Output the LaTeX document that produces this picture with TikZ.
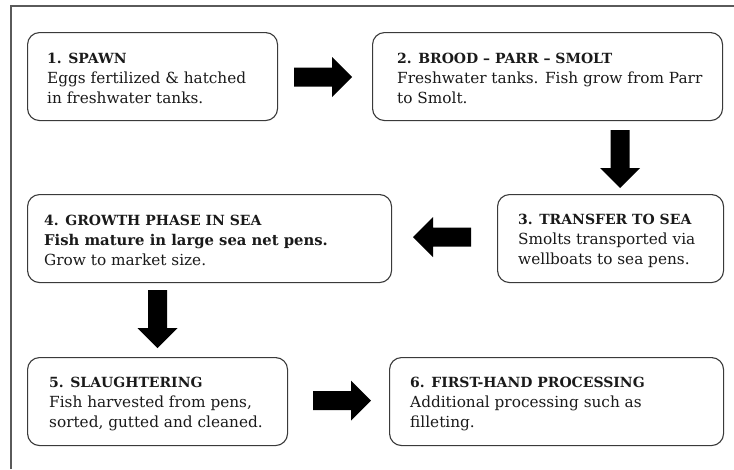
\documentclass[tikz,border=0pt]{standalone}
\usepackage{fontspec}
\setmainfont{DejaVu Serif}
\definecolor{boxgray}{HTML}{3A3A3A}
\definecolor{framegray}{HTML}{5A5A5A}
\definecolor{txt}{HTML}{1A1A1A}
\tikzset{
  box/.style={draw=boxgray, line width=1.1pt, rounded corners=12pt, minimum width=#1, minimum height=88pt, inner sep=0pt, anchor=north west},
  lbl/.style={anchor=base west, inner sep=0pt, font=\fontsize{15.3}{20}\selectfont, text=txt},
  ttl/.style={lbl, font=\fontsize{14}{20}\selectfont\bfseries},
  bodybold/.style={lbl, font=\fontsize{14.8}{20}\selectfont\bfseries},
  blockarrow/.pic={\fill[black] (0,9.5) -- (38,9.5) -- (38,20) -- (58,0) -- (38,-20) -- (38,-9.5) -- (0,-9.5) -- cycle;}
}
\begin{document}
\begin{tikzpicture}[x=1pt,y=-1pt]
\useasboundingbox[fill=white] (0,0) rectangle (734,469);
% outer frame (cropped)
\draw[framegray, line width=1.2pt] (11,469) -- (11,6) -- (734,6);
% boxes
\node[box=250pt] (b1) at (27,32) {};
\node[box=350pt] (b2) at (372,32) {};
\node[box=226pt] (b3) at (497,194) {};
\node[box=364pt] (b4) at (27,194) {};
\node[box=260pt] (b5) at (27,357) {};
\node[box=334pt] (b6) at (389,357) {};
% texts
\node[ttl] (t1a) at (47,63) {1. SPAWN};
\node[lbl] (t1b) at (47,83) {Eggs fertilized \& hatched};
\node[lbl] (t1c) at (47,103) {in freshwater tanks.};
\node[ttl] (t2a) at (397,63) {2. BROOD – PARR – SMOLT};
\node[lbl] (t2b) at (397,83) {Freshwater tanks. Fish grow from Parr};
\node[lbl] (t2c) at (397,103) {to Smolt.};
\node[ttl] (t3a) at (518,224) {3. TRANSFER TO SEA};
\node[lbl] (t3b) at (518,244) {Smolts transported via};
\node[lbl] (t3c) at (518,264) {wellboats to sea pens.};
\node[ttl] (t4a) at (44,225) {4. GROWTH PHASE IN SEA};
\node[bodybold] (t4b) at (44,245) {Fish mature in large sea net pens.};
\node[lbl] (t4c) at (44,265) {Grow to market size.};
\node[ttl] (t5a) at (49,387) {5. SLAUGHTERING};
\node[lbl] (t5b) at (49,407) {Fish harvested from pens,};
\node[lbl] (t5c) at (49,427) {sorted, gutted and cleaned.};
\node[ttl] (t6a) at (410,387) {6. FIRST-HAND PROCESSING};
\node[lbl] (t6b) at (410,407) {Additional processing such as};
\node[lbl] (t6c) at (410,427) {filleting.};
% block arrows
\pic (a1) at (294,77) {blockarrow};
\pic[rotate=-90] (a2) at (620,130) {blockarrow};
\pic[rotate=180] (a3) at (471,237) {blockarrow};
\pic[rotate=-90] (a4) at (157.5,290) {blockarrow};
\pic (a5) at (313,400.5) {blockarrow};
\end{tikzpicture}
\end{document}
